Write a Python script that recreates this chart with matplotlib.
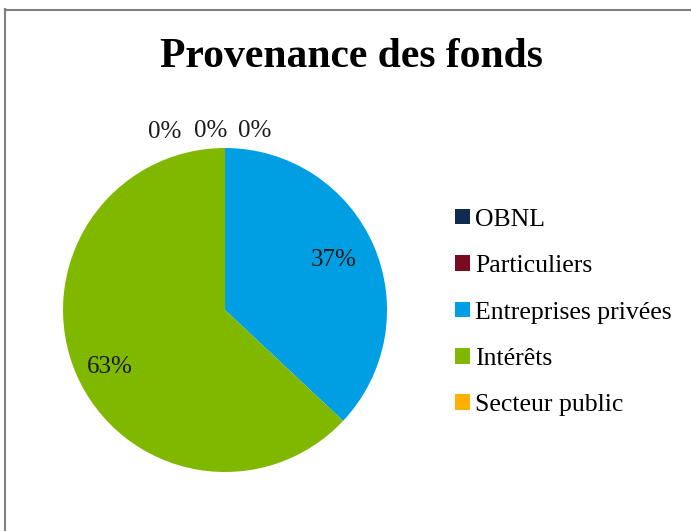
import matplotlib
matplotlib.use('Agg')
import matplotlib.pyplot as plt
from matplotlib.patches import Patch
from matplotlib.lines import Line2D

# Data
categories = ['OBNL', 'Particuliers', 'Entreprises privées', 'Intérêts', 'Secteur public']
values = [0, 0, 37, 63, 0]
colors = ['#0F2B50', '#7A0A1E', '#009FE3', '#80B800', '#FFB000']
title = 'Provenance des fonds'

plt.rcParams['font.family'] = ['Liberation Serif', 'DejaVu Serif']

fig = plt.figure(figsize=(6.91, 5.31), dpi=100)

# Pie axes (center ~ (225, 310) px, radius ~162 px)
ax = fig.add_axes([0.0912, 0.1111, 0.4689, 0.6102])

wedges, texts, autotexts = ax.pie(
    values, colors=colors, startangle=90, counterclock=False,
    autopct=lambda p: f'{p:.0f}%', pctdistance=0.76, radius=1.0,
    textprops={'fontsize': 18, 'color': '#1a1a1a'},
)
ax.set_xlim(-1, 1)
ax.set_ylim(-1, 1)
ax.set_aspect('equal')

# Zero-value labels sit above the pie, side by side
zero_pos = [(-0.37, 1.10), (-0.09, 1.105), (0.185, 1.105)]
k = 0
for v, t in zip(values, autotexts):
    if v == 0:
        t.set_position(zero_pos[k])
        k += 1
# nudge non-zero labels a little
for v, t in zip(values, autotexts):
    if v == 37:
        t.set_position((0.67, 0.31))
    elif v == 63:
        t.set_position((-0.71, -0.35))

fig.text(0.508, 0.893, title, ha='center', va='center',
         fontsize=30, fontweight='bold', color='black')

handles = [Patch(facecolor=c, edgecolor='none') for c in colors]
fig.legend(handles, categories, loc='upper left', bbox_to_anchor=(0.659, 0.607),
           frameon=False, fontsize=18.5, handlelength=0.55, handleheight=0.55,
           handletextpad=0.22, labelspacing=0.95, borderpad=0, borderaxespad=0)

# Chart border (top and left visible)
fig.add_artist(Line2D([5 / 691, 1.0], [1 - 9.5 / 531, 1 - 9.5 / 531],
                      transform=fig.transFigure, color='#808080', linewidth=1.5))
fig.add_artist(Line2D([5.5 / 691, 5.5 / 691], [0, 1 - 9 / 531],
                      transform=fig.transFigure, color='#808080', linewidth=1.5))

fig.savefig('out.png', dpi=100)
